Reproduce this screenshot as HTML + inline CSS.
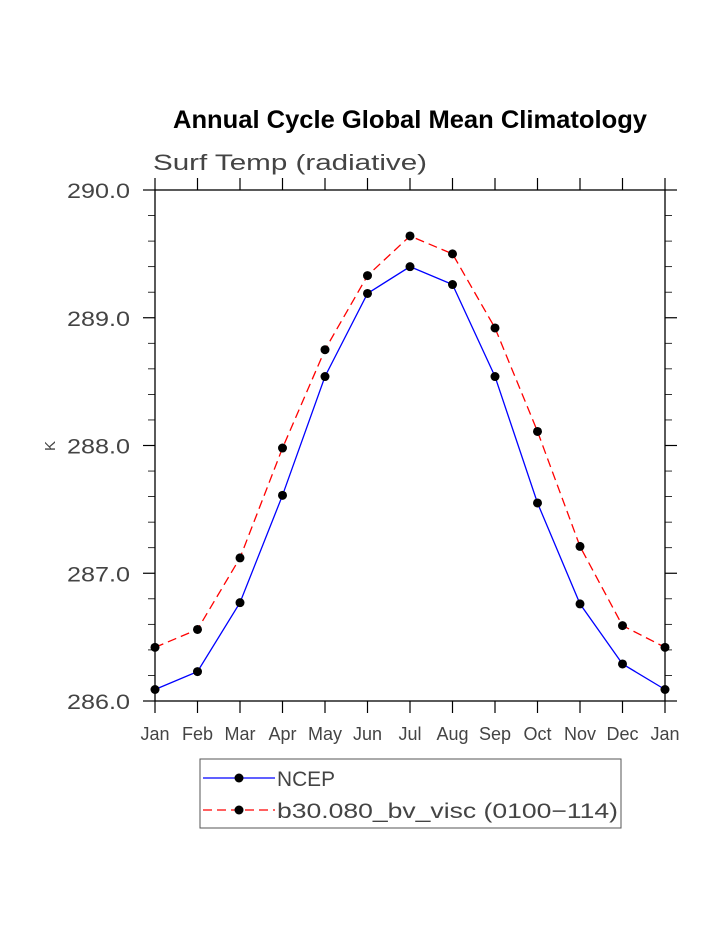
<!DOCTYPE html>
<html><head><meta charset="utf-8"><style>
body{margin:0;background:#fff}
svg{display:block}
text{font-family:"Liberation Sans",sans-serif}
</style></head><body>
<svg id="chart" width="723" height="935" xmlns="http://www.w3.org/2000/svg">
<text x="173" y="128" font-size="25" font-weight="bold" textLength="474" lengthAdjust="spacingAndGlyphs">Annual Cycle Global Mean Climatology</text>
<text x="153" y="170" font-size="22" fill="#444" textLength="274" lengthAdjust="spacingAndGlyphs">Surf Temp (radiative)</text>
<text x="55" y="446" font-size="15" fill="#444" text-anchor="middle" transform="rotate(-90 55 446)">K</text>
<g id="axes"></g>
<g id="series"></g>
<g>
<rect x="200" y="759" width="421" height="69" fill="none" stroke="#555" stroke-width="1"/>
<line x1="203" y1="778" x2="275" y2="778" stroke="#0000ff" stroke-width="1.3"/>
<circle cx="239" cy="778" r="4.5"/>
<text x="277" y="786" font-size="21" fill="#444" textLength="58" lengthAdjust="spacingAndGlyphs">NCEP</text>
<line x1="203" y1="810" x2="275" y2="810" stroke="#ff0000" stroke-width="1.3" stroke-dasharray="9,5"/>
<circle cx="239" cy="810" r="4.5"/>
<text x="277" y="818" font-size="21" fill="#444" textLength="341" lengthAdjust="spacingAndGlyphs">b30.080_bv_visc (0100−114)</text>
</g>
</svg>
<script>
const months=["Jan","Feb","Mar","Apr","May","Jun","Jul","Aug","Sep","Oct","Nov","Dec","Jan"];
const ncep=[286.09,286.23,286.77,287.61,288.54,289.19,289.40,289.26,288.54,287.55,286.76,286.29,286.09];
const model=[286.42,286.56,287.12,287.98,288.75,289.33,289.64,289.50,288.92,288.11,287.21,286.59,286.42];
const yTicks=[286.0,287.0,288.0,289.0,290.0];
const yMin=286,yMax=290;
const L=155,R=665,T=190,B=701;
const NS="http://www.w3.org/2000/svg";
function xs(i){return L+(R-L)*i/(months.length-1);}
function ys(v){return B-(v-yMin)/(yMax-yMin)*(B-T);}
function mk(tag,attrs,parent){const e=document.createElementNS(NS,tag);for(const k in attrs)e.setAttribute(k,attrs[k]);parent.appendChild(e);return e;}
const ax=document.getElementById('axes');
let fr=mk('rect',{x:L,y:T,width:R-L,height:B-T,fill:'none',stroke:'#000','stroke-width':1.3},ax);


months.forEach((m,i)=>{
  const x=xs(i);
  let t=mk('line',{x1:x,y1:B,x2:x,y2:B+12,stroke:'#000','stroke-width':1.2},ax);
  
  
  let t2=mk('line',{x1:x,y1:T,x2:x,y2:T-12,stroke:'#000','stroke-width':1.2},ax);
  
  
  let lb=mk('text',{x:x,y:740,'text-anchor':'middle','font-size':18,fill:'#444'},ax);
  lb.textContent=m;
  
  
});
for(let v=yMin;v<=yMax+1e-9;v+=0.2){
  const major=Math.abs(v-Math.round(v))<1e-6;
  const y=ys(v),len=major?12:7;
  let a=mk('line',{x1:L,y1:y,x2:L-len,y2:y,stroke:'#000','stroke-width':major?1.2:0.8},ax);
  
  
  let b=mk('line',{x1:R,y1:y,x2:R+len,y2:y,stroke:'#000','stroke-width':major?1.2:0.8},ax);
  
  
}
yTicks.forEach(v=>{
  let lb=mk('text',{x:67,y:ys(v)+8,'font-size':21,fill:'#444',textLength:63,lengthAdjust:'spacingAndGlyphs'},ax);
  lb.textContent=v.toFixed(1);
  
  
});
const sg=document.getElementById('series');
function drawSeries(vals,color,dash,name){
  const pts=vals.map((v,i)=>xs(i)+','+ys(v)).join(' ');
  let pl=mk('polyline',{points:pts,fill:'none',stroke:color,'stroke-width':1.3},sg);
  if(dash)pl.setAttribute('stroke-dasharray',dash);
  
  
  vals.forEach((v,i)=>{
    let c=mk('circle',{cx:xs(i),cy:ys(v),r:4.5,fill:'#000'},sg);
    
    
  });
}
drawSeries(model,'#ff0000','9,5','model');
drawSeries(ncep,'#0000ff',null,'ncep');
</script>
</body></html>
